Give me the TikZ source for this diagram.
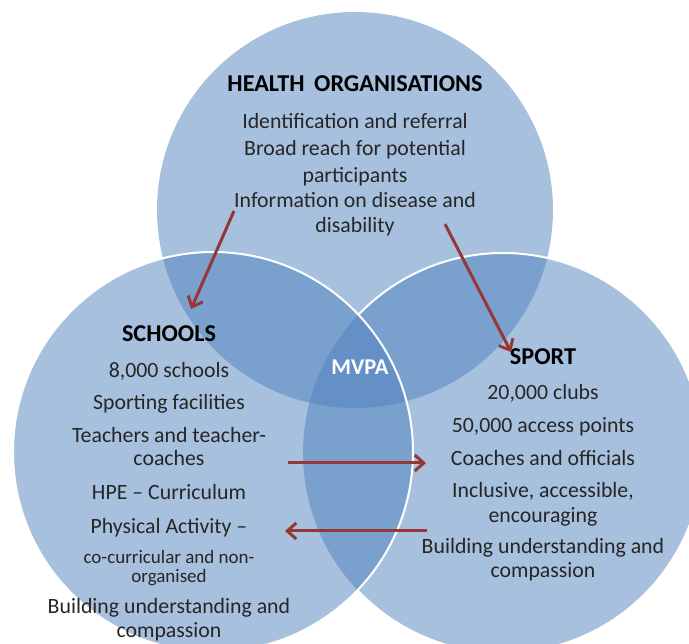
\documentclass[tikz,border=0pt]{standalone}
\usepackage{fontspec}
\setmainfont{Carlito}
\usetikzlibrary{arrows.meta}
\definecolor{vennblue}{RGB}{79,129,189}
\definecolor{linkred}{RGB}{149,55,53}
\begin{document}
\begin{tikzpicture}[x=1pt,y=-1pt,
  venn/.style={fill=vennblue,fill opacity=0.5,draw=none},
  rim/.style={draw=white,line width=2pt},
  txt/.style={inner sep=0pt,anchor=base,font=\fontsize{21.8}{24}\selectfont,text=black!85},
  small/.style={txt,font=\fontsize{19}{21}\selectfont},
  head/.style={txt,font=\fontsize{24.2}{26}\selectfont\bfseries,text=black},
  link/.style={draw=linkred,line width=3pt,-{Straight Barb[length=9pt,width=16pt,line width=3pt]}}]
\useasboundingbox (0,0) rectangle (689,644);

% circle centres
\coordinate (ct) at (355,210);
\coordinate (cl) at (213,452);
\coordinate (cr) at (503,453);

% translucent discs
\fill[venn] (ct) circle (198);
\fill[venn] (cr) circle (200);
\fill[venn] (cl) circle (200);

% white rims: the sport rim stops where the schools disc lies over it
\begin{scope}
  \clip (-10,-10) rectangle (700,700) (cl) circle (200);
  \draw[rim] (cr) circle (200);
\end{scope}
\draw[rim] (cl) circle (200);

% health organisations
\node[head] (hh) at (355,92) {HEALTH\, ORGANISATIONS};
\node[txt] (h1) at (355,129) {Identification and referral};
\node[txt] (h2) at (355,156) {Broad reach for potential};
\node[txt] (h3) at (355,183) {participants};
\node[txt] (h4) at (355,208) {Information on disease and};
\node[txt] (h5) at (355,233) {disability};

% schools
\node[head] (sh) at (169,342) {SCHOOLS};
\node[txt] (s1) at (169,378) {8,000 schools};
\node[txt] (s2) at (169,410) {Sporting facilities};
\node[txt] (s3) at (169,443) {Teachers and teacher-};
\node[txt] (s4) at (169,466) {coaches};
\node[txt] (s5) at (169,500) {HPE -- Curriculum};
\node[txt] (s6) at (169,533) {Physical Activity --};
\node[small] (s7) at (169,563) {co-curricular and non-};
\node[small] (s8) at (169,583) {organised};
\node[txt] (s9) at (169,613) {Building understanding and};
\node[txt] (s10) at (169,637) {compassion};

% sport
\node[head] (ph) at (543,365) {SPORT};
\node[txt] (p1) at (543,400) {20,000 clubs};
\node[txt] (p2) at (543,433) {50,000 access points};
\node[txt] (p3) at (543,466) {Coaches and officials};
\node[txt] (p4) at (543,498) {Inclusive, accessible,};
\node[txt] (p5) at (543,522) {encouraging};
\node[txt] (p6) at (543,554) {Building understanding and};
\node[txt] (p7) at (543,578) {compassion};

% shared centre
\node[head,text=white,font=\fontsize{22.5}{24}\selectfont\bfseries] (mv) at (360,375) {MVPA};

% links between the partners
\coordinate (a1s) at (234,211);
\coordinate (a1e) at (191,309);
\coordinate (a2s) at (445,224);
\coordinate (a2e) at (511,352);
\coordinate (a3s) at (288,463);
\coordinate (a3e) at (426,463);
\coordinate (a4s) at (427,531);
\coordinate (a4e) at (285,531);
\draw[link] (a1s) -- (a1e);
\draw[link] (a2s) -- (a2e);
\draw[link] (a3s) -- (a3e);
\draw[link] (a4s) -- (a4e);
\end{tikzpicture}
\end{document}
